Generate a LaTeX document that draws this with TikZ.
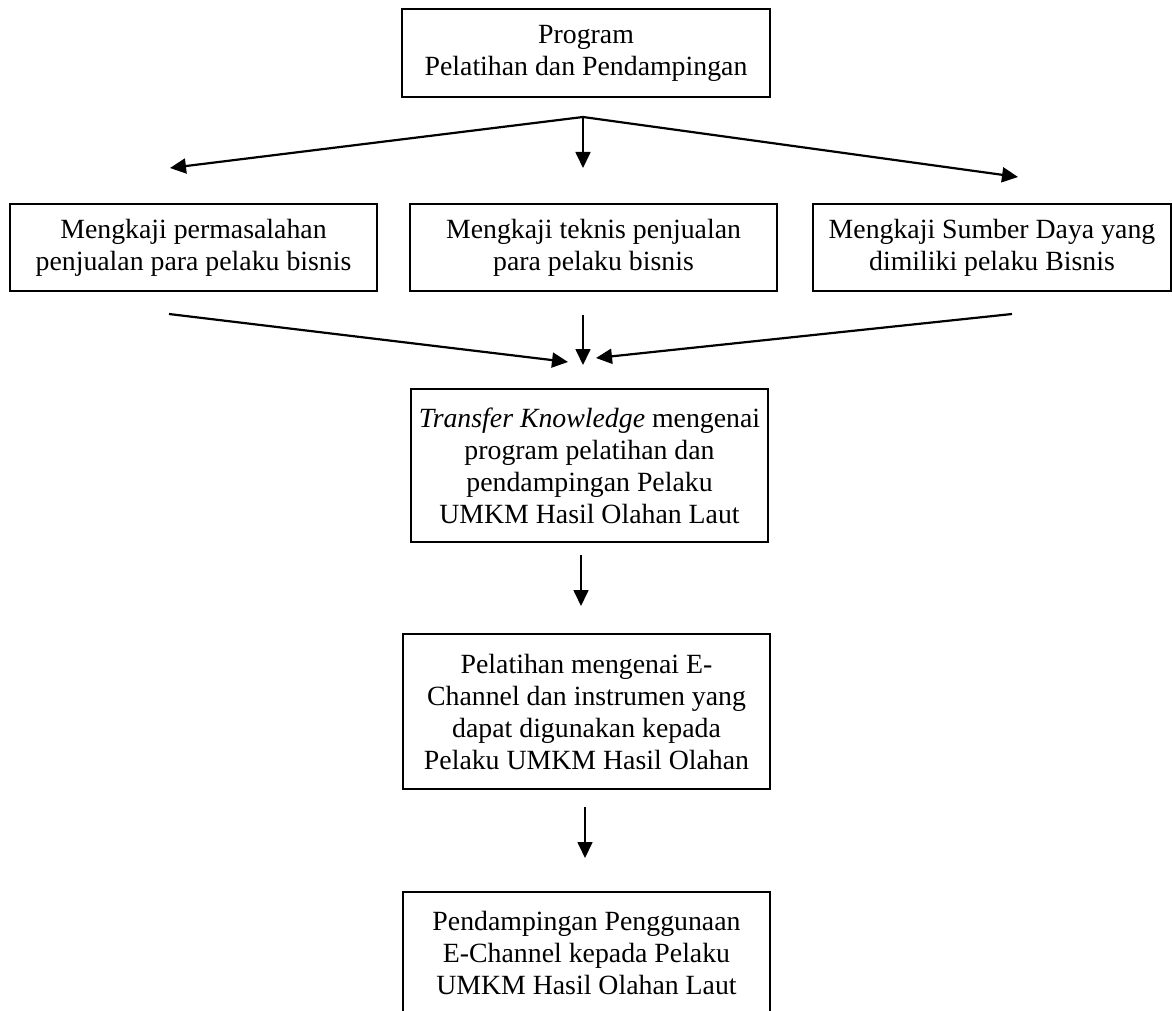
\documentclass[tikz,border=0pt]{standalone}
\usepackage{fontspec}
\setmainfont{Liberation Serif}
\usetikzlibrary{arrows.meta}
\begin{document}
\begin{tikzpicture}[x=1pt,y=-1pt,
  box/.style={draw=black, line width=1.1pt, align=center, inner sep=0pt,
    font=\fontsize{27.8}{32}\selectfont},
  arr/.style={-{Triangle[length=16pt,width=15pt]}, line width=2.2pt},
  varr/.style={-{Triangle[length=16pt,width=15pt]}, line width=1.7pt}]
\useasboundingbox (0,0) rectangle (1172,1011);
\clip (0,0) rectangle (1172,1011);

\node[box, minimum width=368pt, minimum height=88pt] (top) at (586,53)
  {Program\\Pelatihan dan Pendampingan};
\node[box, minimum width=367pt, minimum height=87pt] (left) at (193.5,247.5)
  {Mengkaji permasalahan\\penjualan para pelaku bisnis};
\node[box, minimum width=367pt, minimum height=87pt] (mid) at (593.5,247.5)
  {Mengkaji teknis penjualan\\para pelaku bisnis};
\node[box, minimum width=358pt, minimum height=87pt] (right) at (992,247.5)
  {Mengkaji Sumber Daya yang\\dimiliki pelaku Bisnis};
\node[box, minimum width=357pt, minimum height=153pt] (transfer) at (589.5,465.5)
  {\textit{Transfer Knowledge} mengenai\\program pelatihan dan\\pendampingan Pelaku\\UMKM Hasil Olahan Laut};
\node[box, minimum width=367pt, minimum height=155pt] (pelatihan) at (586.5,711.5)
  {Pelatihan mengenai E-\\Channel dan instrumen yang\\dapat digunakan kepada\\Pelaku UMKM Hasil Olahan};
\node[box, minimum width=367pt, minimum height=121pt] (pendamping) at (586.5,952.5)
  {Pendampingan Penggunaan\\E-Channel kepada Pelaku\\UMKM Hasil Olahan Laut};

% first fan-out
\coordinate (b1) at (583,117);
\coordinate (t1L) at (170,168);
\coordinate (t1M) at (583,168);
\coordinate (t1R) at (1018,177);
\draw[arr] (b1) -- (t1L);
\draw[varr] (b1) -- (t1M);
\draw[arr] (b1) -- (t1R);

% converge
\coordinate (s2L) at (169,314);
\coordinate (h2L) at (568,362);
\coordinate (s2M) at (583,315);
\coordinate (h2M) at (583,365);
\coordinate (s2R) at (1012,314);
\coordinate (h2R) at (596,358);
\draw[arr] (s2L) -- (h2L);
\draw[varr] (s2M) -- (h2M);
\draw[arr] (s2R) -- (h2R);

% down arrows
\coordinate (s3) at (581,555);
\coordinate (h3) at (581,606);
\draw[varr] (s3) -- (h3);
\coordinate (s4) at (585,807);
\coordinate (h4) at (585,858);
\draw[varr] (s4) -- (h4);
\end{tikzpicture}
\end{document}
